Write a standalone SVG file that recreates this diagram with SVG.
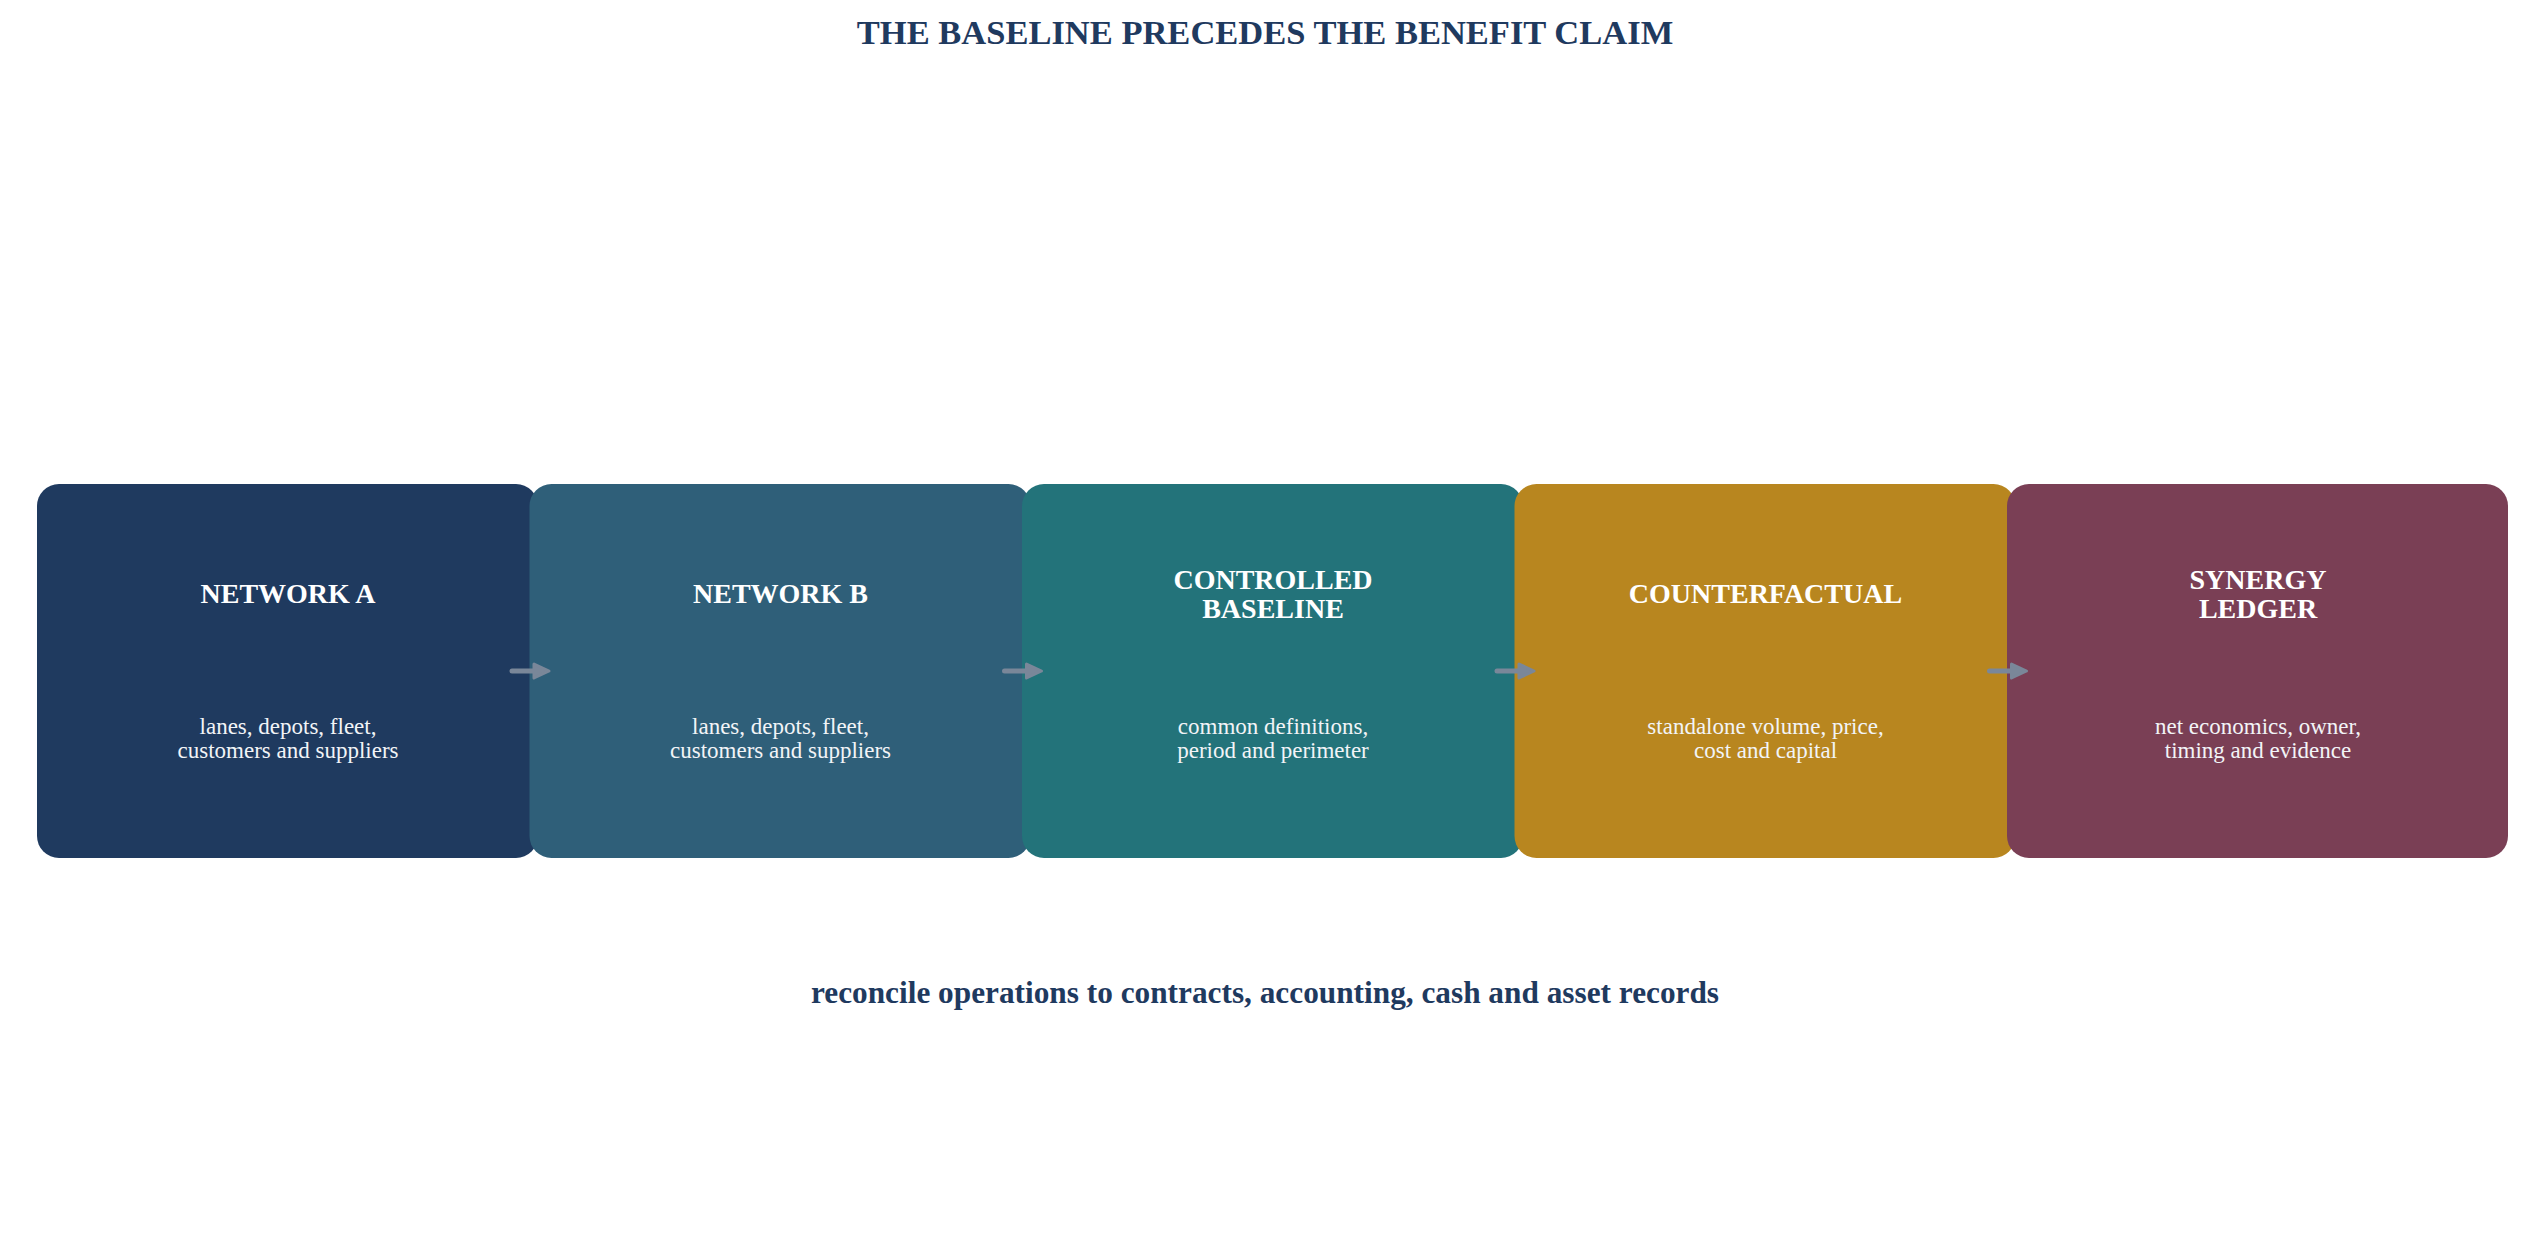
<svg xmlns="http://www.w3.org/2000/svg" width="2530" height="1254" viewBox="0 0 2530 1254">
  <style>
    .box { stroke: none; }
    .ttl { font-family: "Liberation Serif", "Times New Roman", serif; font-weight: bold; font-size: 28px; fill: #ffffff; text-anchor: middle; }
    .sub { font-family: "Liberation Serif", "Times New Roman", serif; font-size: 23px; fill: #f2f4f7; text-anchor: middle; }
    .head { font-family: "Liberation Serif", "Times New Roman", serif; font-weight: bold; fill: #1f3a5f; text-anchor: middle; }
    .conn line { stroke: #7a8799; stroke-width: 5; stroke-linecap: round; }
    .conn polygon { fill: #7a8799; stroke: #7a8799; stroke-width: 3; stroke-linejoin: round; }
  </style>
  <rect width="2530" height="1254" fill="#ffffff"/>
  <text class="head" x="1265" y="44" font-size="34.5">THE BASELINE PRECEDES THE BENEFIT CLAIM</text>

  <g id="node-network-a">
    <rect class="box" x="37" y="484" width="501" height="374" rx="22" fill="#1f3a5f"/>
    <text class="ttl" x="288" y="603">NETWORK A</text>
    <text class="sub" x="288" y="734">lanes, depots, fleet,</text>
    <text class="sub" x="288" y="758">customers and suppliers</text>
  </g>
  <g id="node-network-b">
    <rect class="box" x="529.5" y="484" width="501" height="374" rx="22" fill="#2f5f79"/>
    <text class="ttl" x="780.5" y="603">NETWORK B</text>
    <text class="sub" x="780.5" y="734">lanes, depots, fleet,</text>
    <text class="sub" x="780.5" y="758">customers and suppliers</text>
  </g>
  <g id="node-controlled-baseline">
    <rect class="box" x="1022" y="484" width="501" height="374" rx="22" fill="#23737a"/>
    <text class="ttl" x="1273" y="589">CONTROLLED</text>
    <text class="ttl" x="1273" y="618">BASELINE</text>
    <text class="sub" x="1273" y="734">common definitions,</text>
    <text class="sub" x="1273" y="758">period and perimeter</text>
  </g>
  <g id="node-counterfactual">
    <rect class="box" x="1514.5" y="484" width="501" height="374" rx="22" fill="#b8861f"/>
    <text class="ttl" x="1765.5" y="603">COUNTERFACTUAL</text>
    <text class="sub" x="1765.5" y="734">standalone volume, price,</text>
    <text class="sub" x="1765.5" y="758">cost and capital</text>
  </g>
  <g id="node-synergy-ledger">
    <rect class="box" x="2007" y="484" width="501" height="374" rx="22" fill="#7a3f55"/>
    <text class="ttl" x="2258" y="589">SYNERGY</text>
    <text class="ttl" x="2258" y="618">LEDGER</text>
    <text class="sub" x="2258" y="734">net economics, owner,</text>
    <text class="sub" x="2258" y="758">timing and evidence</text>
  </g>

  <g id="connectors" class="conn">
    <line x1="512" y1="671" x2="536" y2="671"/>
    <polygon points="534,664 549,671 534,678"/>
    <line x1="1004.5" y1="671" x2="1028.5" y2="671"/>
    <polygon points="1026.5,664 1041.5,671 1026.5,678"/>
    <line x1="1497" y1="671" x2="1521" y2="671"/>
    <polygon points="1519,664 1534,671 1519,678"/>
    <line x1="1989.5" y1="671" x2="2013.5" y2="671"/>
    <polygon points="2011.5,664 2026.5,671 2011.5,678"/>
  </g>

  <text class="head" x="1265" y="1003" font-size="31.3">reconcile operations to contracts, accounting, cash and asset records</text>
</svg>
